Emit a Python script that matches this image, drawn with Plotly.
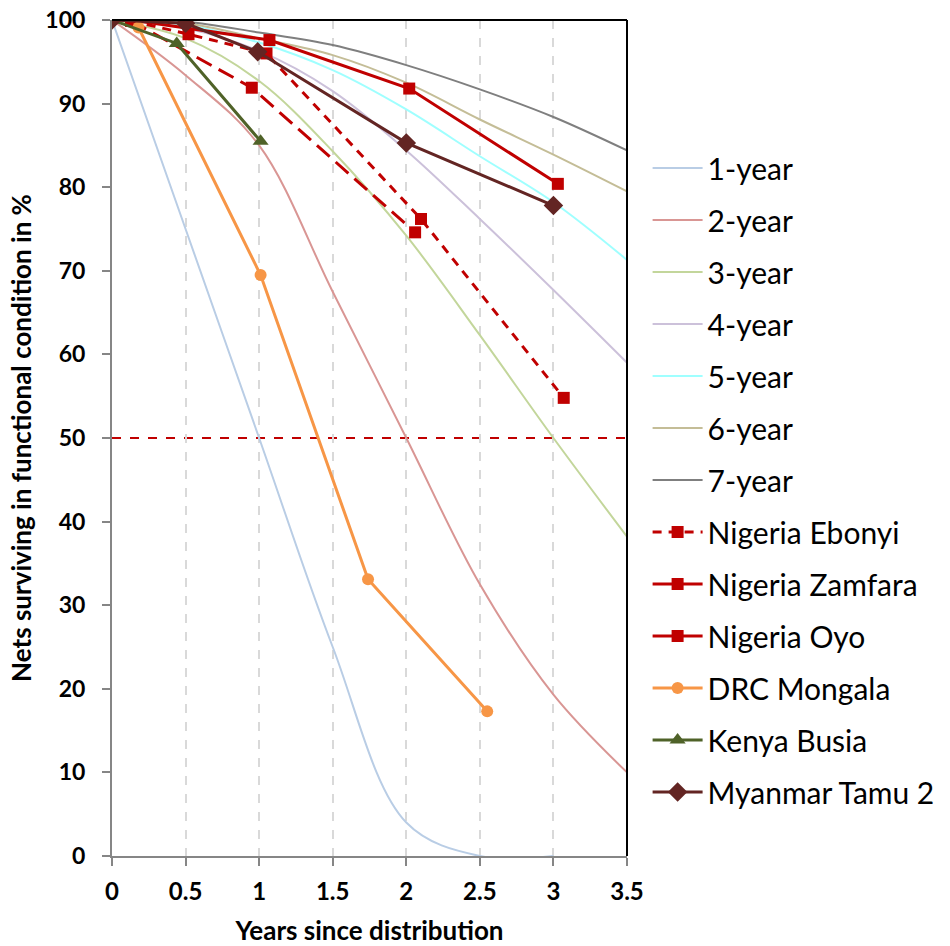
import plotly.graph_objects as go

# Reference survival curves (median life in years), sampled every half year
t_ref = [0, 0.5, 1, 1.5, 2, 2.5, 3, 3.5]
t_1yr = [0, 0.5, 1, 1.5, 2, 2.5, 3]
surv_1yr = [100, 75, 50, 25, 4, 0, 0]
surv_2yr = [100, 93.4, 85, 67.5, 50, 32.5, 19.3, 10]
surv_3yr = [100, 97.8, 92.7, 84.3, 74.2, 62.3, 50, 38.2]
surv_4yr = [100, 99, 96.3, 91.5, 84.4, 76.2, 67.7, 59]
surv_5yr = [100, 99.4, 97.3, 94, 89.3, 83.7, 78.2, 71.3]
surv_6yr = [100, 99.6, 97.8, 95.8, 92.5, 88.1, 83.9, 79.5]
surv_7yr = [100, 99.8, 98.5, 97, 94.6, 91.7, 88.4, 84.4]

# Field observations
ebonyi_t = [0.13, 0.52, 1.05, 2.10, 3.07]
ebonyi_v = [99.9, 98.3, 96.0, 76.2, 54.8]
zamfara_t = [0.13, 0.95, 2.06]
zamfara_v = [99.9, 91.9, 74.6]
oyo_t = [0.13, 1.07, 2.02, 3.03]
oyo_v = [100, 97.6, 91.8, 80.4]
drc_t = [0.18, 1.01, 1.74, 2.55]
drc_v = [99.1, 69.5, 33.1, 17.3]
kenya_t = [0, 0.44, 1.01]
kenya_v = [100, 97.2, 85.5]
myanmar_t = [0, 0.5, 0.99, 2.0, 3.0]
myanmar_v = [100, 99.6, 96.2, 85.3, 77.8]

threshold = 50

ref_curves = [
    ("1-year", t_1yr, surv_1yr, "#B9CDE5"),
    ("2-year", t_ref, surv_2yr, "#D99694"),
    ("3-year", t_ref, surv_3yr, "#C3D69B"),
    ("4-year", t_ref, surv_4yr, "#CCC1DA"),
    ("5-year", t_ref, surv_5yr, "#9FFFFF"),
    ("6-year", t_ref, surv_6yr, "#C4BD97"),
    ("7-year", t_ref, surv_7yr, "#7F7F7F"),
]

RED = "#C00000"
fig = go.Figure()

for name, xs, ys, col in ref_curves:
    fig.add_trace(go.Scatter(
        x=xs, y=ys, name=name, mode="lines", legendgroup=name,
        line=dict(color=col, width=2, shape="spline", smoothing=1.0),
    ))

def field(name, xs, ys, col, symbol, size, dash="solid", legend_dash=None):
    fig.add_trace(go.Scatter(
        x=xs, y=ys, name=name, mode="lines+markers", legendgroup=name,
        showlegend=legend_dash is None,
        line=dict(color=col, width=3, dash=dash),
        marker=dict(color=col, symbol=symbol, size=size),
    ))
    if legend_dash is not None:
        fig.add_trace(go.Scatter(
            x=[None], y=[None], name=name, mode="lines+markers", legendgroup=name,
            line=dict(color=col, width=3, dash=legend_dash),
            marker=dict(color=col, symbol=symbol, size=size),
        ))

field("Nigeria Ebonyi", ebonyi_t, ebonyi_v, RED, "square", 12, dash="9px,7px")
field("Nigeria Zamfara", zamfara_t, zamfara_v, RED, "square", 12, dash="17px,8px", legend_dash="solid")
field("Nigeria Oyo", oyo_t, oyo_v, RED, "square", 12)
field("DRC Mongala", drc_t, drc_v, "#F79646", "circle", 12)
field("Kenya Busia", kenya_t, kenya_v, "#4F6228", "triangle-up", 14)
field("Myanmar Tamu 2", myanmar_t, myanmar_v, "#632523", "diamond", 15)

# 50 % threshold
fig.add_shape(type="line", xref="x", yref="y", x0=0, x1=3.5, y0=threshold, y1=threshold,
              line=dict(color=RED, width=2, dash="dash"), layer="below")
# top and right frame
fig.add_shape(type="line", xref="paper", yref="paper", x0=0, x1=1, y0=1, y1=1,
              line=dict(color="black", width=2))
fig.add_shape(type="line", xref="paper", yref="paper", x0=1, x1=1, y0=0, y1=1,
              line=dict(color="black", width=2))

FONT = "Lato"
fig.update_layout(
    width=950, height=946,
    margin=dict(l=112, r=323, t=20, b=90, autoexpand=False),
    paper_bgcolor="white", plot_bgcolor="white",
    font=dict(family=FONT, color="black"),
    legend=dict(
        x=1.04, xanchor="left", y=0.854, yanchor="top",
        font=dict(family=FONT, size=30, color="black"),
        traceorder="grouped", tracegroupgap=10, itemwidth=50,
        bgcolor="rgba(0,0,0,0)",
    ),
    xaxis=dict(
        range=[0, 3.5], dtick=0.5, tick0=0,
        showgrid=True, gridcolor="#D9D9D9", gridwidth=2, griddash="dash",
        zeroline=False, showline=True, linecolor="#868686", linewidth=2,
        ticks="outside", ticklen=8, tickwidth=2, tickcolor="#868686",
        ticklabelstandoff=5,
        tickfont=dict(family=FONT, size=24, weight="bold"),
        title=dict(text="Years since distribution", standoff=20,
                   font=dict(family=FONT, size=26, weight="bold")),
    ),
    yaxis=dict(
        range=[0, 100], dtick=10,
        showgrid=False, zeroline=False, showline=True, linecolor="#868686", linewidth=2,
        ticks="outside", ticklen=8, tickwidth=2, tickcolor="#868686",
        ticklabelstandoff=12,
        tickfont=dict(family=FONT, size=23, weight="bold"),
        title=dict(text="Nets surviving in functional condition in %", standoff=6,
                   font=dict(family=FONT, size=26, weight="bold")),
    ),
)

fig.write_html("out.html")
